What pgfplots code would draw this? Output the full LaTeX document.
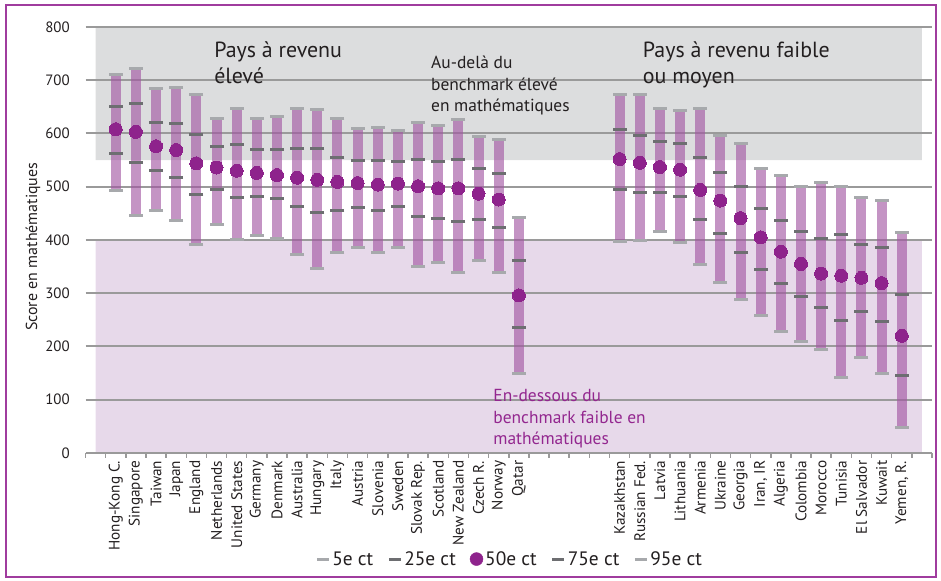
\documentclass[border=0pt]{standalone}
\usepackage{fontspec}
\setmainfont{PT Sans}
\usepackage{pgfplots}
\pgfplotsset{compat=1.18}
\usepackage{pgfplotstable}

\definecolor{framec}{RGB}{160,60,158}
\definecolor{greyband}{RGB}{220,221,222}
\definecolor{purpband}{RGB}{231,217,234}
\definecolor{gridc}{RGB}{154,154,154}
\definecolor{barc}{RGB}{162,85,162}
\definecolor{medc}{RGB}{142,35,140}
\definecolor{lightc}{RGB}{167,169,172}
\definecolor{darkc}{RGB}{109,110,113}
\definecolor{textc}{RGB}{35,31,32}
\definecolor{purptext}{RGB}{147,39,143}

\pgfplotstableread{
x p5 p25 p50 p75 p95
0 493 562 608 650 710
1 446 546 603 656 722
2 456 531 576 621 684
3 437 518 569 619 686
4 392 486 544 598 673
5 429 495 536 576 629
6 401 480 530 579 646
7 409 482 526 570 628
8 403 478 522 570 632
9 373 463 517 572 646
10 347 452 513 572 645
11 376 456 509 555 628
12 386 461 507 550 609
13 376 456 504 550 611
14 386 462 506 548 606
15 351 444 501 551 621
16 358 441 497 548 615
17 339 435 497 551 626
18 362 439 487 534 594
19 339 424 476 525 589
20 150 235 296 362 443
25 398 495 552 608 673
26 399 489 545 596 673
27 416 489 537 585 647
28 396 482 532 581 643
29 354 439 494 555 647
30 321 413 474 527 596
31 289 377 441 501 581
32 259 345 405 459 534
33 229 319 378 437 521
34 210 294 355 416 501
35 195 274 337 403 508
36 141 249 333 411 501
37 180 266 329 392 480
38 150 246 319 386 474
39 47 146 220 298 414
}\datatable

\begin{document}
\begin{tikzpicture}[x=1bp,y=1bp]
\path (0,0) rectangle (941,581);
\draw[framec, line width=2bp] (6,4) rectangle (936,576);
\begin{axis}[
  set layers,
  at={(85.5bp,128bp)}, anchor=south west,
  scale only axis, width=846.5bp, height=426bp,
  xmin=-1.5, xmax=40.5, ymin=0, ymax=800,
  axis line style={draw=none},
  ytick={0,100,...,800},
  ymajorgrids,
  major grid style={gridc, line width=2bp},
  ytick style={draw=none},
  yticklabel style={font=\fontsize{15}{15}\selectfont, text=textc, xshift=-8bp},
  /pgf/number format/assume math mode=true,
  xtick={0,...,20,25,26,...,39},
  xticklabels={Hong-Kong C.,Singapore,Taiwan,Japan,England,Netherlands,United States,Germany,Denmark,Australia,Hungary,Italy,Austria,Slovenia,Sweden,Slovak Rep.,Scotland,New Zealand,Czech R.,Norway,Qatar,Kazakhstan,Russian Fed.,Latvia,Lithuania,Armenia,Ukraine,Georgia,{Iran, IR},Algeria,Colombia,Morocco,Tunisia,El Salvador,Kuwait,{Yemen, R.}},
  xticklabel style={rotate=90, anchor=east, font=\fontsize{15.3}{15.3}\selectfont, text=textc},
  major x tick style={draw=none},
  minor xtick={-1.5,-0.5,...,40.5},
  minor tick length=5bp,
  minor x tick style={gridc, line width=1.5bp},
  tick align=outside,
  xtick pos=bottom,
  ylabel={Score en mathématiques},
  ylabel style={at={(axis description cs:-0.062,0.484)}, anchor=center, font=\fontsize{16}{16}\selectfont, text=textc},
  legend style={at={(0.501,-0.249)}, anchor=center, draw=none, fill=none, legend columns=5, font=\fontsize{19.5}{19.5}\selectfont, text=textc, /tikz/every even column/.append style={column sep=12bp}},
  legend cell align=left,
]
% background bands
\addplot[fill=greyband, draw=none, forget plot, on layer=axis background] coordinates {(-1,550) (40,550) (40,800) (-1,800) (-1,550)};
\addplot[fill=purpband, draw=none, forget plot, on layer=axis background] coordinates {(-1,0) (40,0) (40,400) (-1,400) (-1,0)};

\addlegendimage{legend image code/.code={\draw[lightc,line width=3bp](0bp,0bp)--(12bp,0bp);}}
\addlegendentry{5e ct}
\addlegendimage{legend image code/.code={\draw[darkc,line width=3bp](0bp,0bp)--(12bp,0bp);}}
\addlegendentry{25e ct}
\addlegendimage{legend image code/.code={\fill[medc](6bp,0bp) circle (6.5bp);}}
\addlegendentry{50e ct}
\addlegendimage{legend image code/.code={\draw[darkc,line width=3bp](0bp,0bp)--(12bp,0bp);}}
\addlegendentry{75e ct}
\addlegendimage{legend image code/.code={\draw[lightc,line width=3bp](0bp,0bp)--(12bp,0bp);}}
\addlegendentry{95e ct}

% 5-95 bars
\addplot[forget plot, only marks, mark=none, error bars/.cd, y dir=both, y explicit,
  error bar style={draw=barc, line width=10bp, opacity=0.63}, error mark=none]
  table[x=x, y=p50, y error plus expr=\thisrow{p95}-\thisrow{p50}, y error minus expr=\thisrow{p50}-\thisrow{p5}] {\datatable};
% caps
\addplot[forget plot, only marks, mark=-, mark size=7bp, mark options={draw=lightc, line width=3bp}] table[x=x, y=p5] {\datatable};
\addplot[forget plot, only marks, mark=-, mark size=7bp, mark options={draw=lightc, line width=3bp}] table[x=x, y=p95] {\datatable};
\addplot[forget plot, only marks, mark=-, mark size=7bp, mark options={draw=darkc, line width=3bp}] table[x=x, y=p25] {\datatable};
\addplot[forget plot, only marks, mark=-, mark size=7bp, mark options={draw=darkc, line width=3bp}] table[x=x, y=p75] {\datatable};
% medians
\addplot[forget plot, only marks, color=medc, mark=*, mark size=6.5bp, mark options={fill=medc, draw=medc, line width=0pt}] table[x=x, y=p50] {\datatable};

% annotations
\node[anchor=base west, inner sep=0pt, font=\fontsize{22}{22}\selectfont, text=textc] at (axis cs:4.88,742) {Pays à revenu};
\node[anchor=base west, inner sep=0pt, font=\fontsize{22}{22}\selectfont, text=textc] at (axis cs:4.88,694) {élevé};
\node[anchor=base west, inner sep=0pt, font=\fontsize{22}{22}\selectfont, text=textc] at (axis cs:26.15,742) {Pays à revenu faible};
\node[anchor=base west, inner sep=0pt, font=\fontsize{22}{22}\selectfont, text=textc] at (axis cs:26.15,694) {ou moyen};
\node[anchor=base west, inner sep=0pt, font=\fontsize{17.5}{17.5}\selectfont, text=textc] at (axis cs:15.64,721.5) {Au-delà du};
\node[anchor=base west, inner sep=0pt, font=\fontsize{17.5}{17.5}\selectfont, text=textc] at (axis cs:15.64,680.5) {benchmark élevé};
\node[anchor=base west, inner sep=0pt, font=\fontsize{17.5}{17.5}\selectfont, text=textc] at (axis cs:15.64,641.5) {en mathématiques};
\node[anchor=base west, inner sep=0pt, font=\fontsize{17.5}{17.5}\selectfont, text=purptext] at (axis cs:18.73,97) {En-dessous du};
\node[anchor=base west, inner sep=0pt, font=\fontsize{17.5}{17.5}\selectfont, text=purptext] at (axis cs:18.73,54.5) {benchmark faible en};
\node[anchor=base west, inner sep=0pt, font=\fontsize{17.5}{17.5}\selectfont, text=purptext] at (axis cs:18.73,15.6) {mathématiques};
\end{axis}
\end{tikzpicture}
\end{document}
